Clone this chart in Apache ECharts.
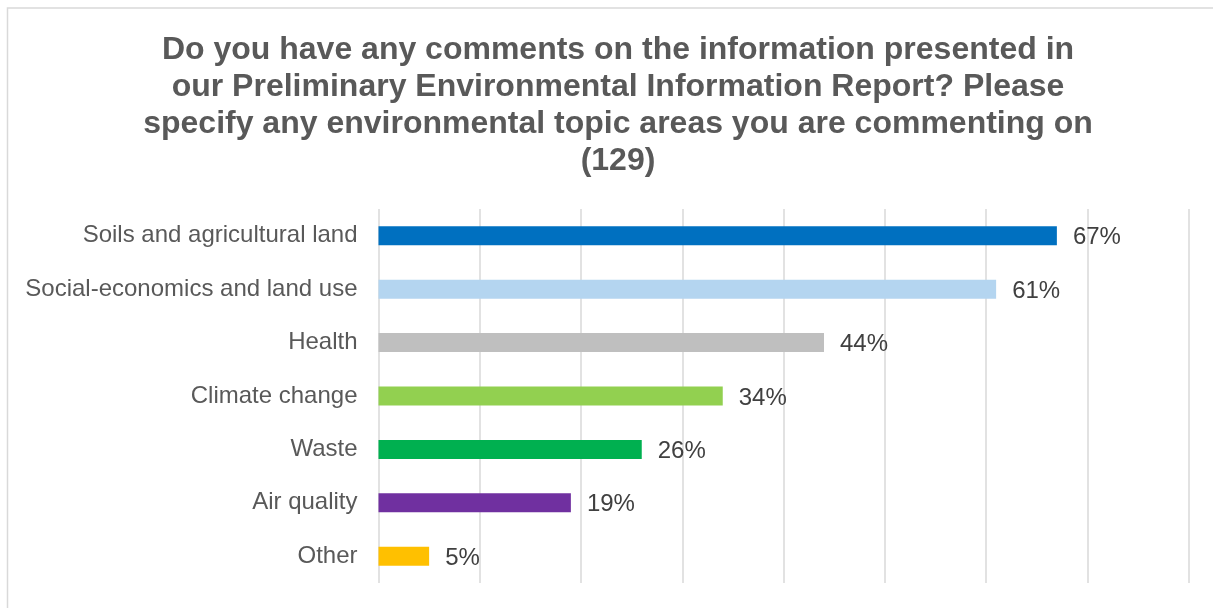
<!DOCTYPE html>
<html>
<head>
<meta charset="utf-8">
<script src="https://cdn.jsdelivr.net/npm/echarts@6/dist/echarts.min.js"></script>
<style>
  html, body { margin: 0; padding: 0; background: #ffffff; }
  #chart { width: 1213px; height: 608px; }
</style>
</head>
<body>
<div id="chart"></div>
<script>
// Survey topics, top to bottom
const categories = [
  'Soils and agricultural land',
  'Social-economics and land use',
  'Health',
  'Climate change',
  'Waste',
  'Air quality',
  'Other'
];
// Share of respondents (%)
const values = [67, 61, 44, 34, 26, 19, 5];
const barColors = ['#0070C0', '#B4D5F0', '#BFBFBF', '#92D050', '#00B050', '#7030A0', '#FFC000'];
const titleText = 'Do you have any comments on the information presented in\nour Preliminary Environmental Information Report? Please\nspecify any environmental topic areas you are commenting on\n(129)';

const font = '"Liberation Sans", Arial, sans-serif';
const chart = echarts.init(document.getElementById('chart'), null, { renderer: 'canvas' });

chart.setOption({
  backgroundColor: '#ffffff',
  animation: false,
  textStyle: { fontFamily: font },
  title: {
    text: titleText,
    left: 613,
    top: 27,
    textAlign: 'center',
    textStyle: {
      fontFamily: font,
      fontSize: 32,
      fontWeight: 'bold',
      color: '#595959',
      lineHeight: 37
    }
  },
  graphic: [{
    type: 'rect',
    silent: true,
    shape: { x: 7.5, y: 8, width: 1300, height: 700 },
    style: { fill: null, stroke: '#d9d9d9', lineWidth: 1.5 }
  }],
  grid: { left: 378.5, right: 24.5, top: 209, bottom: 25, containLabel: false },
  xAxis: {
    type: 'value',
    min: 0,
    max: 80,
    interval: 10,
    axisLine: { show: false },
    axisTick: { show: false },
    axisLabel: { show: false },
    splitLine: { show: true, lineStyle: { color: '#d9d9d9', width: 1.5 } }
  },
  yAxis: {
    type: 'category',
    data: categories,
    inverse: true,
    axisLine: { show: false },
    axisTick: { show: false },
    axisLabel: { fontFamily: font, fontSize: 24, color: '#595959', margin: 21, padding: [4, 0, 0, 0] }
  },
  series: [{
    type: 'bar',
    barWidth: 19,
    data: values.map((v, i) => ({ value: v, itemStyle: { color: barColors[i] } })),
    label: {
      show: true,
      position: 'right',
      distance: 16,
      offset: [0, 2],
      formatter: '{c}%',
      fontFamily: font,
      fontSize: 24,
      color: '#404040'
    }
  }]
});
</script>
</body>
</html>
